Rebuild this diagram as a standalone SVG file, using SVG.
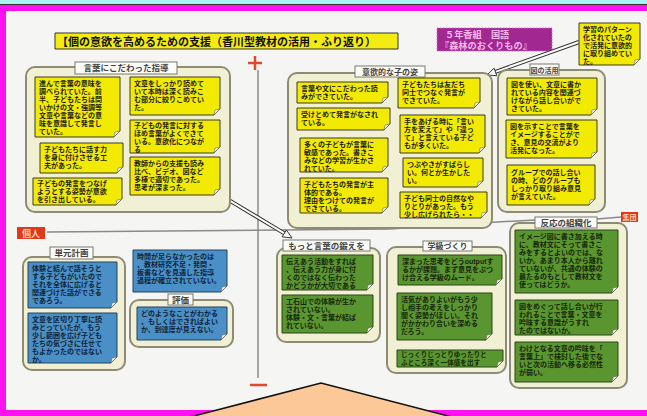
<svg xmlns="http://www.w3.org/2000/svg" width="647" height="416" viewBox="0 0 647 416">
<defs>
<style>
text{font-family:"Liberation Sans","Noto Sans CJK JP",sans-serif;font-weight:bold}
.bx{fill:#f2f0d4;stroke:#8e8b74;stroke-width:2}
.lb{fill:#fbfbf8;stroke:#7a7a70;stroke-width:1}
.lt{font-size:8.5px;fill:#444;text-anchor:middle}
.y{fill:#f2ea00;stroke:#3a3a28;stroke-width:1}
.b{fill:#4a8fc6;stroke:#23425e;stroke-width:1}
.g{fill:#5a9630;stroke:#2b4418;stroke-width:1}
.f{fill:#f4f4ec;stroke:#555;stroke-width:0.5}
.t{font-size:7px;fill:#1c1c1c}
.tb{font-size:7px;fill:#0f2338}
.tg{font-size:7px;fill:#16260a}
.ax{stroke:#8a8a8a;stroke-width:1.5;fill:none}
.red{stroke:#e04a30;stroke-width:2.5}
.ah{fill:#fff;stroke:#333;stroke-width:1}
</style>
</defs>
<rect width="647" height="416" fill="#f5f5f3"/>
<rect x="0" y="0" width="647" height="4" fill="#a8f2f2"/>
<rect x="0" y="4" width="647" height="1.2" fill="#333"/>
<rect x="0" y="5" width="647" height="6" fill="#ff10f0"/>
<rect x="0" y="5" width="6" height="411" fill="#ff10f0"/>
<rect x="0" y="410" width="647" height="6" fill="#ff10f0"/>

<g id="axes">
<line class="ax" x1="258" y1="70" x2="258" y2="378"/>
<polyline class="ax" points="47,232 390,229 497,222 535,220"/>
<line class="ax" x1="597" y1="219" x2="621" y2="217"/>
<line class="red" x1="248" y1="63" x2="262" y2="63"/>
<line class="red" x1="255" y1="56" x2="255" y2="70"/>
<line class="red" x1="250" y1="385" x2="267" y2="385"/>
</g>
<g id="label-kojin"><rect x="17" y="227" width="28" height="12" fill="#e03818"/><text x="31" y="236.5" font-size="9" fill="#f8d0c0" text-anchor="middle">個人</text></g>
<g id="label-shudan"><rect x="621" y="212" width="17" height="10" fill="#e03818"/><text x="629.5" y="219.8" font-size="7" fill="#f8d0c0" text-anchor="middle">集団</text></g>

<g id="title"><path d="M55 33H398V49H55z" fill="#f4ec10" stroke="#333" stroke-width="1"/><text x="57" y="45.5" font-size="11" fill="#111">【個の意欲を高めるための支援（香川型教材の活用・ふり返り）</text></g>
<g id="subject"><rect x="437" y="28" width="115" height="23" fill="#a02890" stroke="#e060d8" stroke-width="1" stroke-dasharray="1.5 1.5"/><text x="445" y="38" font-size="9.2" fill="#f6b8ec">５年香組　国語</text><text x="440" y="49" font-size="9.2" fill="#f6b8ec">『森林のおくりもの』</text></g>

<g id="connectors">
<line x1="219.7" y1="194.6" x2="284.3" y2="233.4" stroke="#333" stroke-width="4"/>
<line x1="219.7" y1="194.6" x2="284.3" y2="233.4" stroke="#fff" stroke-width="2"/>
<polygon class="ah" points="212,190 217.7,198 221.8,191.2"/>
<polygon class="ah" points="292,238 282.2,236.8 286.4,230"/>
<line x1="495.5" y1="71.9" x2="579" y2="42" stroke="#333" stroke-width="4"/>
<line x1="495.5" y1="71.9" x2="579" y2="42" stroke="#fff" stroke-width="2"/>
<polygon class="ah" points="487,75 496.8,75.7 494.1,68.2"/>
</g>

<g id="box-kotoba">
<rect class="bx" x="26" y="67" width="204" height="145" rx="9"/>
<rect class="lb" x="75" y="62" width="102" height="12"/><text class="lt" x="126" y="71.3">言葉にこだわった指導</text>
</g>
<g id="box-iyoku">
<rect class="bx" x="288" y="73" width="204" height="155" rx="9"/>
<rect class="lb" x="355" y="66" width="70" height="11"/><text class="lt" x="390" y="74.8" style="font-size:8px">意欲的な子の姿</text>
</g>
<g id="box-zu">
<rect class="bx" x="498" y="70" width="107" height="142" rx="9"/>
<rect class="lb" x="530" y="64" width="29" height="11"/><text class="lt" x="544.5" y="72.5" style="font-size:7px">図の活用</text>
</g>
<g id="box-tangen">
<rect class="bx" x="23" y="257" width="102" height="113" rx="9"/>
<rect class="lb" x="50" y="247" width="43" height="12"/><text class="lt" x="71.5" y="256">単元計画</text>
</g>
<g id="box-hyoka">
<rect class="bx" x="130" y="300" width="103" height="47" rx="9"/>
<rect class="lb" x="168" y="294" width="25" height="11"/><text class="lt" x="180.5" y="302.5">評価</text>
</g>
<g id="box-motto">
<rect class="bx" x="277" y="248" width="103" height="94" rx="9"/>
<rect class="lb" x="283" y="240" width="87" height="11"/><text class="lt" x="326.5" y="248.8">もっと言葉の鍛えを</text>
</g>
<g id="box-gakkyu">
<rect class="bx" x="387" y="247" width="119" height="126" rx="9"/>
<rect class="lb" x="423" y="241" width="49" height="10"/><text class="lt" x="447.5" y="249.3" style="font-size:8px">学級づくり</text>
</g>
<g id="box-hanno">
<rect class="bx" x="510" y="223" width="117" height="165" rx="9"/>
<rect class="lb" x="535" y="217" width="62" height="11"/><text class="lt" x="566" y="225.6">反応の組織化</text>
</g>

<g id="L1"><path class="y" d="M35 77h85v54l-6 6h-79z"/><path class="f" d="M120 131l-6 6l1-5z"/><text class="t"><tspan x="39" y="85.5">進んで言葉の意味を</tspan><tspan x="39" y="93.5">調べられていた。前</tspan><tspan x="39" y="101.5">半、子どもたちは問</tspan><tspan x="39" y="109.5">いかけの文・強調等</tspan><tspan x="39" y="117.5">文章や言葉などの意</tspan><tspan x="39" y="125.5">味を意識して発言し</tspan><tspan x="39" y="133.5">ていた。</tspan></text></g>
<g id="L2"><path class="y" d="M40 143h83v24l-6 6h-77z"/><path class="f" d="M123 167l-6 6l1-5z"/><text class="t"><tspan x="44" y="152">子どもたちに話す力</tspan><tspan x="44" y="160">を身に付けさせる工</tspan><tspan x="44" y="168">夫があった。</tspan></text></g>
<g id="L3"><path class="y" d="M33 178h89v21l-6 6h-83z"/><path class="f" d="M122 199l-6 6l1-5z"/><text class="t"><tspan x="37" y="186">子どもの発言をつなげ</tspan><tspan x="37" y="194">ようとする姿勢が意欲</tspan><tspan x="37" y="202">を引き出している。</tspan></text></g>
<g id="L4"><path class="y" d="M130 77h90v32l-6 6h-84z"/><path class="f" d="M220 109l-6 6l1-5z"/><text class="t"><tspan x="134" y="85.5">文章をしっかり読めて</tspan><tspan x="134" y="93.5">いて本時は深く読みこ</tspan><tspan x="134" y="101.5">む部分に絞りこめてい</tspan><tspan x="134" y="109.5">た。</tspan></text></g>
<g id="L5"><path class="y" d="M130 120h90v27l-6 6h-84z"/><path class="f" d="M220 147l-6 6l1-5z"/><text class="t"><tspan x="134" y="128">子どもの発言に対する</tspan><tspan x="134" y="136">ほめ言葉がよくできて</tspan><tspan x="134" y="144">いる。意欲化につなが</tspan><tspan x="134" y="152">る</tspan></text></g>
<g id="L6"><path class="y" d="M130 157h90v32l-6 6h-84z"/><path class="f" d="M220 189l-6 6l1-5z"/><text class="t"><tspan x="134" y="165.5">教師からの支援も読み</tspan><tspan x="134" y="173.5">比べ、ビデオ、図など</tspan><tspan x="134" y="181.5">多様で適切であった。</tspan><tspan x="134" y="189.5">思考が深まった。</tspan></text></g>

<g id="M1"><path class="y" d="M297 82h91v15l-6 6h-85z"/><path class="f" d="M388 97l-6 6l1-5z"/><text class="t"><tspan x="301" y="90.5">言葉や文にこだわった読</tspan><tspan x="301" y="98.5">みができていた。</tspan></text></g>
<g id="M2"><path class="y" d="M297 108h93v16l-6 6h-87z"/><path class="f" d="M390 124l-6 6l1-5z"/><text class="t"><tspan x="301" y="116.5">受けとめて発言がなされ</tspan><tspan x="301" y="124.5">ている。</tspan></text></g>
<g id="M3"><path class="y" d="M300 138h88v28l-6 6h-82z"/><path class="f" d="M388 166l-6 6l1-5z"/><text class="t"><tspan x="304" y="146.5">多くの子どもが言葉に</tspan><tspan x="304" y="154.5">敏感であった。書きこ</tspan><tspan x="304" y="162.5">みなどの学習が生かさ</tspan><tspan x="304" y="170.5">れていた。</tspan></text></g>
<g id="M4"><path class="y" d="M300 178h88v29l-6 6h-82z"/><path class="f" d="M388 207l-6 6l1-5z"/><text class="t"><tspan x="304" y="186.5">子どもたちの発言が主</tspan><tspan x="304" y="194.5">体的である。</tspan><tspan x="304" y="202.5">理由をつけての発言が</tspan><tspan x="304" y="210.5">できている。</tspan></text></g>
<g id="M5"><path class="y" d="M398 78h82v24l-6 6h-76z"/><path class="f" d="M480 102l-6 6l1-5z"/><text class="t"><tspan x="402" y="86.5">子どもたちは友だち</tspan><tspan x="402" y="94.5">同士でつなぐ発言が</tspan><tspan x="402" y="102.5">できていた。</tspan></text></g>
<g id="M6"><path class="y" d="M400 115h85v32l-6 6h-79z"/><path class="f" d="M485 147l-6 6l1-5z"/><text class="t"><tspan x="404" y="123.5">手をあげる時に「言い</tspan><tspan x="404" y="131.5">方を変えて」や「違っ</tspan><tspan x="404" y="139.5">て」と言えている子ど</tspan><tspan x="404" y="147.5">もが多くいた。</tspan></text></g>
<g id="M7"><path class="y" d="M403 158h80v23l-6 6h-74z"/><path class="f" d="M483 181l-6 6l1-5z"/><text class="t"><tspan x="407" y="166.5">つぶやきがすばらし</tspan><tspan x="407" y="174.5">い。何とか生かした</tspan><tspan x="407" y="182.5">い。</tspan></text></g>
<g id="M8"><path class="y" d="M400 192h87v20l-6 6h-81z"/><path class="f" d="M487 212l-6 6l1-5z"/><text class="t"><tspan x="404" y="200.5">子ども同士の自然なや</tspan><tspan x="404" y="208.5">りとりがあった。もう</tspan><tspan x="404" y="216.5">少し広げられたら・・</tspan></text></g>

<g id="R1"><path class="y" d="M507 78h90v31l-6 6h-84z"/><path class="f" d="M597 109l-6 6l1-5z"/><text class="t"><tspan x="511" y="86.5">図を使い、文章に書か</tspan><tspan x="511" y="94.5">れている内容を関連づ</tspan><tspan x="511" y="102.5">けながら話し合いがで</tspan><tspan x="511" y="110.5">きていた。</tspan></text></g>
<g id="R2"><path class="y" d="M506 120h91v32l-6 6h-85z"/><path class="f" d="M597 152l-6 6l1-5z"/><text class="t"><tspan x="510" y="128.5">図を示すことで言葉を</tspan><tspan x="510" y="136.5">イメージすることがで</tspan><tspan x="510" y="144.5">き、意見の交流がより</tspan><tspan x="510" y="152.5">活発になった。</tspan></text></g>
<g id="R3"><path class="y" d="M507 165h88v34l-6 6h-82z"/><path class="f" d="M595 199l-6 6l1-5z"/><text class="t"><tspan x="511" y="174.5">グループでの話し合い</tspan><tspan x="511" y="182.5">の時、どのグループも</tspan><tspan x="511" y="190.5">しっかり取り組み意見</tspan><tspan x="511" y="198.5">が言えていた。</tspan></text></g>
<g id="TR"><path class="y" d="M579 23h61v36l-6 6h-55z"/><path class="f" d="M640 59l-6 6l1-5z"/><text class="t"><tspan x="583" y="31.5">学習のパターン</tspan><tspan x="583" y="39.5">化されていたの</tspan><tspan x="583" y="47.5">で活発に意欲的</tspan><tspan x="583" y="55.5">に取り組めてい</tspan><tspan x="583" y="63.5">た。</tspan></text></g>

<g id="B1"><path class="b" d="M28 262h89v40l-6 6h-83z"/><path class="f" d="M117 302l-6 6l1-5z"/><text class="tb"><tspan x="32" y="270.5">体験と結んで話そうと</tspan><tspan x="32" y="278.5">する子どもがいたので</tspan><tspan x="32" y="286.5">それを全体に広げると</tspan><tspan x="32" y="294.5">関連づけた話ができる</tspan><tspan x="32" y="302.5">であろう。</tspan></text></g>
<g id="B2"><path class="b" d="M28 313h89v44l-6 6h-83z"/><path class="f" d="M117 357l-6 6l1-5z"/><text class="tb"><tspan x="32" y="321.5">文章を区切り丁寧に読</tspan><tspan x="32" y="329.5">みとっていたが、もう</tspan><tspan x="32" y="337.5">少し範囲を広げ子ども</tspan><tspan x="32" y="345.5">たちの気づきに任せて</tspan><tspan x="32" y="353.5">もよかったのではない</tspan><tspan x="32" y="361.5">か。</tspan></text></g>
<g id="B3"><path class="b" d="M133 250h94v36l-6 6h-88z"/><path class="f" d="M227 286l-6 6l1-5z"/><text class="tb"><tspan x="137" y="259">時間が足らなかったのは</tspan><tspan x="137" y="267">、教材研究不足・発問・</tspan><tspan x="137" y="275">板書などを見通した指導</tspan><tspan x="137" y="283">過程が確立されていない。</tspan></text></g>
<g id="B4"><path class="b" d="M137 307h90v27l-6 6h-84z"/><path class="f" d="M227 334l-6 6l1-5z"/><text class="tb"><tspan x="141" y="316">どのようなことがわかる</tspan><tspan x="141" y="324">、もしくはできればよい</tspan><tspan x="141" y="332">か、到達度が見えない。</tspan></text></g>

<g id="G1"><path class="g" d="M282 255h91v29l-6 6h-85z"/><path class="f" d="M373 284l-6 6l1-5z"/><text class="tg"><tspan x="286" y="263.5">伝えあう活動をすれば</tspan><tspan x="286" y="271.5">、伝えあう力が身に付</tspan><tspan x="286" y="279.5">くのではなく伝わった</tspan><tspan x="286" y="287.5">かどうかが大切である</tspan></text></g>
<g id="G2"><path class="g" d="M282 295h91v32l-6 6h-85z"/><path class="f" d="M373 327l-6 6l1-5z"/><text class="tg"><tspan x="286" y="303.5">工石山での体験が生か</tspan><tspan x="286" y="311.5">されていない。</tspan><tspan x="286" y="319.5">体験・文・言葉が結ば</tspan><tspan x="286" y="327.5">れていない。</tspan></text></g>
<g id="G3"><path class="g" d="M398 255h104v24l-6 6h-98z"/><path class="f" d="M502 279l-6 6l1-5z"/><text class="tg"><tspan x="402" y="264">深まった思考をどうoutputす</tspan><tspan x="402" y="272">るかが課題。まず意見をぶつ</tspan><tspan x="402" y="280">け合える学級のムード。</tspan></text></g>
<g id="G4"><path class="g" d="M397 293h95v41l-6 6h-89z"/><path class="f" d="M492 334l-6 6l1-5z"/><text class="tg"><tspan x="401" y="302">活気がありよいがもう少</tspan><tspan x="401" y="310">し相手の考えをしっかり</tspan><tspan x="401" y="318">聞く姿勢がほしい。それ</tspan><tspan x="401" y="326">がかかわり合いを深める</tspan><tspan x="401" y="334">だろう。</tspan></text></g>
<g id="G5"><path class="g" d="M397 350h106v11l-6 6h-100z"/><path class="f" d="M503 361l-6 6l1-5z"/><text class="tg" style="font-size:6.6px"><tspan x="401" y="357.3">じっくりじっとりゆったりと</tspan><tspan x="401" y="365">ふところ深く一体感を出す</tspan></text></g>
<g id="G6"><path class="g" d="M515 230h103v57l-6 6h-97z"/><path class="f" d="M618 287l-6 6l1-5z"/><text class="tg"><tspan x="519" y="239">イメージ図に書き加える時</tspan><tspan x="519" y="247">に、教材文にそって書きこ</tspan><tspan x="519" y="255">みをするとよいのでは、な</tspan><tspan x="519" y="263">いか。あまり本人から離れ</tspan><tspan x="519" y="271">ていないが、共通の体験の</tspan><tspan x="519" y="279">最たるのもとして教材文を</tspan><tspan x="519" y="287">使ってはどうか。</tspan></text></g>
<g id="G7"><path class="g" d="M515 300h103v29l-6 6h-97z"/><path class="f" d="M618 329l-6 6l1-5z"/><text class="tg"><tspan x="519" y="308.5">図をめぐって話し合いが行</tspan><tspan x="519" y="316.5">われることで言葉・文章を</tspan><tspan x="519" y="324.5">吟味する意識がうすれ</tspan><tspan x="519" y="332.5">たのではないか。</tspan></text></g>
<g id="G8"><path class="g" d="M515 342h103v34l-6 6h-97z"/><path class="f" d="M618 376l-6 6l1-5z"/><text class="tg"><tspan x="519" y="351">わけとなる文章の吟味を「</tspan><tspan x="519" y="359">言葉上」で検討した後でな</tspan><tspan x="519" y="367">いと次の活動へ移る必然性</tspan><tspan x="519" y="375">が弱い。</tspan></text></g>

<g id="pentagon"><polygon points="190,417 321,383 452,417" fill="#fcc898" stroke="#111" stroke-width="1.5"/></g>
</svg>
